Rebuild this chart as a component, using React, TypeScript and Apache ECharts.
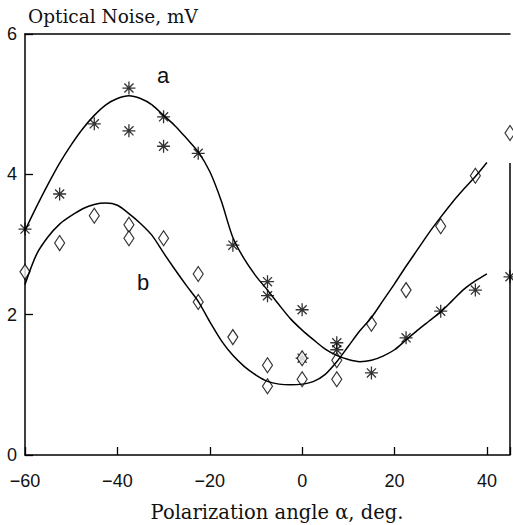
import React, { useEffect, useRef } from "react";
import * as echarts from "echarts";

// Polarization angle (deg) and measured optical noise (mV)
const starPoints: [number, number][] = [
  [-60, 3.22], [-52.5, 3.72], [-45, 4.72], [-37.5, 5.23], [-37.5, 4.62],
  [-30, 4.82], [-30, 4.4], [-22.5, 4.3], [-15, 2.99], [-7.5, 2.47],
  [-7.5, 2.27], [0, 2.07], [0, 1.38], [7.5, 1.6], [7.5, 1.5],
  [15, 1.17], [22.5, 1.67], [30, 2.05], [37.5, 2.35], [45, 2.54],
];
const diamondPoints: [number, number][] = [
  [-60, 2.61], [-52.5, 3.02], [-45, 3.41], [-37.5, 3.28], [-37.5, 3.09],
  [-30, 3.09], [-22.5, 2.58], [-22.5, 2.18], [-15, 1.68], [-7.5, 1.28],
  [-7.5, 0.98], [0, 1.38], [0, 1.08], [7.5, 1.35], [7.5, 1.08],
  [15, 1.87], [22.5, 2.35], [30, 3.26], [37.5, 3.98], [45, 4.59],
];
// Fitted curves (every 2.5 deg)
const curveX: number[] = [
  -60, -57.5, -55, -52.5, -50, -47.5, -45, -42.5, -40, -37.5, -35, -32.5, -30,
  -27.5, -25, -22.5, -20, -17.5, -15, -12.5, -10, -7.5, -5, -2.5, 0, 2.5, 5,
  7.5, 10, 12.5, 15, 17.5, 20, 22.5, 25, 27.5, 30, 32.5, 35, 37.5, 40,
];
const curveAY: number[] = [
  3.2, 3.54, 3.86, 4.16, 4.42, 4.65, 4.84, 4.99, 5.08, 5.12, 5.08, 4.99, 4.84,
  4.69, 4.51, 4.32, 4.04, 3.62, 3.1, 2.79, 2.55, 2.35, 2.14, 1.94, 1.78, 1.64, 1.51,
  1.42, 1.36, 1.33, 1.35, 1.41, 1.5, 1.64, 1.78, 1.91, 2.04, 2.2, 2.36, 2.48, 2.58,
];
const curveBY: number[] = [
  2.43, 2.86, 3.11, 3.29, 3.41, 3.51, 3.57, 3.59, 3.56, 3.44, 3.3, 3.13, 2.88,
  2.64, 2.41, 2.19, 1.9, 1.63, 1.42, 1.26, 1.14, 1.05, 1.01, 1.0, 1.01, 1.05, 1.15,
  1.33, 1.55, 1.77, 1.96, 2.2, 2.44, 2.69, 2.93, 3.17, 3.39, 3.6, 3.79, 3.97, 4.17,
];
const xTicks = [-60, -40, -20, 0, 20, 40];
const yTicks = [0, 2, 4, 6];

const STAR = "path://M0,-1L0,1M-1,0L1,0M-0.7,-0.7L0.7,0.7M-0.7,0.7L0.7,-0.7";
const numFont = "Liberation Sans";
const serif = "DejaVu Serif";

export default function App() {
  const ref = useRef<HTMLDivElement>(null);
  useEffect(() => {
    if (!ref.current) return;
    const chart = echarts.init(ref.current, null, { renderer: "svg" });
    const axisLine = { show: true, lineStyle: { color: "#000", width: 1.5 } };
    const curveStyle = {
      type: "line",
      smooth: 0.3,
      showSymbol: false,
      lineStyle: { color: "#000", width: 1.5 },
    };
    chart.setOption({
      animation: false,
      backgroundColor: "#fff",
      grid: { left: 25, right: 1.5, top: 34, bottom: 70 },
      xAxis: [
        {
          type: "value",
          min: -60,
          max: 45,
          interval: 20,
          axisLine: { ...axisLine, onZero: false },
          axisTick: { show: true, inside: true, length: 8, lineStyle: { color: "#000", width: 1.3 } },
          axisLabel: {
            show: true,
            margin: 17,
            color: "#111",
            fontFamily: numFont,
            fontSize: 18,
            formatter: (v: number) =>
              xTicks.includes(v) ? (v < 0 ? "\u2212" + Math.abs(v) : String(v)) : "",
          },
          splitLine: { show: false },
        },
        {
          type: "value",
          position: "top",
          min: -60,
          max: 45,
          axisLine: { ...axisLine, onZero: false },
          axisTick: { show: false },
          axisLabel: { show: false },
          splitLine: { show: false },
        },
      ],
      yAxis: {
        type: "value",
        min: 0,
        max: 6,
        interval: 2,
        axisLine: { ...axisLine, onZero: false },
        axisTick: { show: true, inside: true, length: 8, lineStyle: { color: "#000", width: 1.3 } },
        axisLabel: {
          show: true,
          margin: 8,
          color: "#111",
          fontFamily: numFont,
          fontSize: 18,
          formatter: (v: number) => (yTicks.includes(v) ? String(v) : ""),
        },
        splitLine: { show: false },
      },
      graphic: [
        {
          type: "text",
          x: 28,
          y: 16.5,
          style: {
            text: "Optical Noise, mV",
            fill: "#111",
            font: `18.5px "${serif}"`,
            verticalAlign: "middle",
          },
        },
        {
          type: "text",
          x: 277,
          y: 512,
          style: {
            text: "Polarization angle \u03b1, deg.",
            fill: "#111",
            font: `19.5px "${serif}"`,
            align: "center",
            verticalAlign: "middle",
          },
        },
        {
          type: "text",
          x: 163,
          y: 75,
          style: { text: "a", fill: "#111", font: `22px "${numFont}"`, align: "center", verticalAlign: "middle" },
        },
        {
          type: "text",
          x: 143,
          y: 282,
          style: { text: "b", fill: "#111", font: `22px "${numFont}"`, align: "center", verticalAlign: "middle" },
        },
      ],
      series: [
        {
          ...curveStyle,
          data: curveX.map((x, i) => [x, curveAY[i]]),
          markLine: {
            silent: true,
            symbol: "none",
            label: { show: false },
            lineStyle: { color: "#000", width: 1.5, type: "solid" },
            data: [[{ coord: [45, 0] }, { coord: [45, 4.16] }]],
          },
        },
        { ...curveStyle, data: curveX.map((x, i) => [x, curveBY[i]]) },
        {
          type: "scatter",
          data: starPoints,
          symbol: STAR,
          symbolSize: 13,
          clip: false,
          itemStyle: { color: "transparent", borderColor: "#000", borderWidth: 1.3 },
        },
        {
          type: "scatter",
          data: diamondPoints,
          symbol: "diamond",
          symbolSize: [10, 15],
          clip: false,
          itemStyle: { color: "#fff", borderColor: "#000", borderWidth: 1.2 },
        },
      ],
    });
    return () => chart.dispose();
  }, []);
  return (
    <div
      ref={ref}
      style={{ position: "fixed", left: 0, top: 0, width: 513, height: 525, background: "#fff" }}
    />
  );
}
